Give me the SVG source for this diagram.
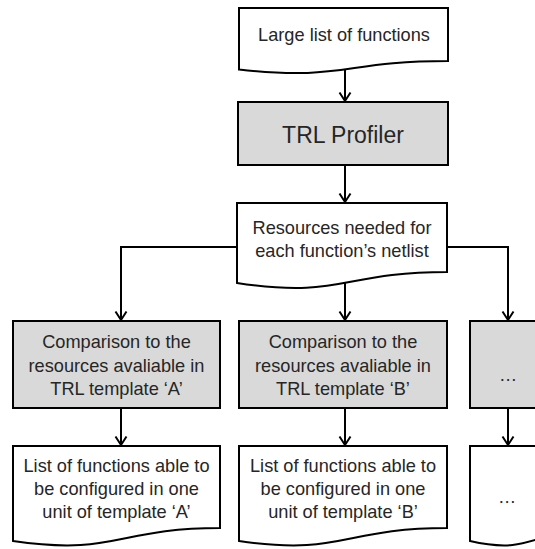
<svg xmlns="http://www.w3.org/2000/svg" width="535" height="549" viewBox="0 0 535 549">
  <style>
    .proc { fill: #d9d9d9; stroke: #000; stroke-width: 2; }
    .doc { fill: #fff; stroke: #000; stroke-width: 2; stroke-linejoin: miter; }
    .lbl { font-family: "Liberation Sans", Arial, sans-serif; font-size: 18.2px; fill: #262626; text-anchor: middle; }
    .big { font-size: 23px; }
    .dots { font-size: 20px; font-weight: bold; }
    .edge { fill: none; stroke: #000; stroke-width: 2; marker-end: url(#arrow); }
  </style>
  <defs>
    <marker id="arrow" markerUnits="userSpaceOnUse" markerWidth="14" markerHeight="14" refX="10" refY="6" orient="auto" overflow="visible">
      <path d="M1.5,0.5 L10,6 L1.5,11.5" fill="none" stroke="#000" stroke-width="2"/>
    </marker>
  </defs>

  <g id="connectors">
    <path class="edge" d="M345,62 V101"/>
    <path class="edge" d="M345,165 V202"/>
    <path class="edge" d="M237,247 H121 V320"/>
    <path class="edge" d="M345,275 V320"/>
    <path class="edge" d="M447,247 H508 V320"/>
    <path class="edge" d="M121,409 V445"/>
    <path class="edge" d="M345,409 V445"/>
    <path class="edge" d="M508,409 V445"/>
  </g>

  <g id="large-list">
    <path class="doc" d="M239,8 H448 V61 C343.5,61 343.5,81 239,69.6 Z"/>
    <text class="lbl" x="344" y="41">Large list of functions</text>
  </g>

  <g id="trl-profiler">
    <rect class="proc" x="238" y="102" width="210" height="63"/>
    <text class="lbl big" x="343" y="143">TRL Profiler</text>
  </g>

  <g id="resources">
    <path class="doc" d="M237,203 H447 V272 C342,272 342,299 237,283 Z"/>
    <text class="lbl" x="342" y="234">Resources needed for</text>
    <text class="lbl" x="342" y="257">each function’s netlist</text>
  </g>

  <g id="compare-a">
    <rect class="proc" x="13" y="321" width="207" height="87"/>
    <text class="lbl" x="116.5" y="348">Comparison to the</text>
    <text class="lbl" x="116.5" y="372">resources avaliable in</text>
    <text class="lbl" x="116.5" y="395">TRL template ‘A’</text>
  </g>

  <g id="compare-b">
    <rect class="proc" x="239" y="321" width="208" height="87"/>
    <text class="lbl" x="343" y="348">Comparison to the</text>
    <text class="lbl" x="343" y="372">resources avaliable in</text>
    <text class="lbl" x="343" y="395">TRL template ‘B’</text>
  </g>

  <g id="compare-more">
    <rect class="proc" x="470" y="321" width="80" height="87"/>
    <text class="lbl" x="508" y="381">…</text>
  </g>

  <g id="list-a">
    <path class="doc" d="M13,446 H220 V528 C116.5,528 116.5,556 13,541 Z"/>
    <text class="lbl" x="116.5" y="472">List of functions able to</text>
    <text class="lbl" x="116.5" y="495">be configured in one</text>
    <text class="lbl" x="116.5" y="518">unit of template ‘A’</text>
  </g>

  <g id="list-b">
    <path class="doc" d="M239,446 H447 V528 C343,528 343,556 239,541 Z"/>
    <text class="lbl" x="343" y="472">List of functions able to</text>
    <text class="lbl" x="343" y="495">be configured in one</text>
    <text class="lbl" x="343" y="518">unit of template ‘B’</text>
  </g>

  <g id="list-more">
    <path class="doc" d="M470,446 H600 V528 C535,528 535,556 470,541 Z"/>
    <text class="lbl" x="507" y="503">…</text>
  </g>
</svg>
